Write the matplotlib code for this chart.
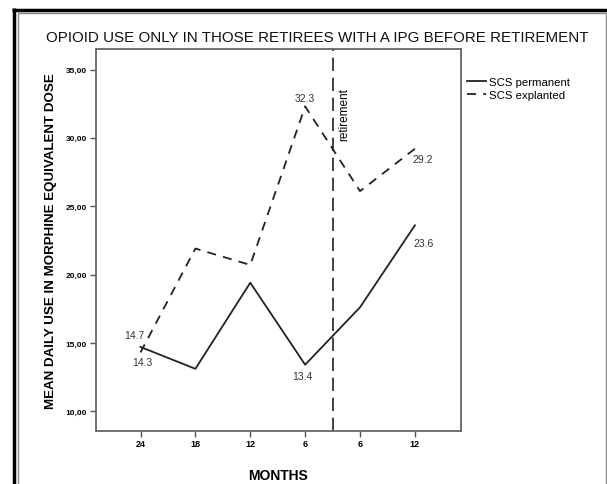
import numpy as np
import matplotlib.pyplot as plt
from matplotlib.patches import Rectangle
from matplotlib.lines import Line2D

# Data
months = ['24', '18', '12', '6', '6', '12']
scs_permanent = [14.7, 13.1, 19.4, 13.4, 17.6, 23.6]
scs_explanted = [14.3, 21.9, 20.7, 32.3, 26.1, 29.2]
yticks = [10, 15, 20, 25, 30, 35]

W, H = 607, 485
fig = plt.figure(figsize=(W / 100, H / 100), dpi=100)
plt.rcParams['font.family'] = ['Liberation Sans', 'DejaVu Sans']

# outer frame
fig.add_artist(Line2D([13.5 / W, 13.5 / W], [-0.05, 1 - 9.2 / H], color='black', lw=2.5,
                      solid_capstyle='butt'))
fig.add_artist(Line2D([12.2 / W, 1.05], [1 - 10.5 / H, 1 - 10.5 / H], color='black', lw=2.5,
                      solid_capstyle='butt'))
fig.add_artist(Rectangle((17.5 / W, -0.1), (605.5 - 17.5) / W, 1.1 - 14 / H,
                         fill=False, ec='#888888', lw=1.0, transform=fig.transFigure))

ax = fig.add_axes([95.5 / W, (H - 432) / H, (461 - 95.5) / W, (432 - 50) / H])
x = np.arange(len(months))
ax.plot(x, scs_permanent, color='#222222', lw=1.3, label='SCS permanent')
ax.plot(x, scs_explanted, color='#222222', lw=1.3, ls=(0, (5, 4)), label='SCS explanted')
ax.axvline(3.5, color='#222222', lw=1.2, ls=(0, (8, 4)))
ax.text(3.72, 31.8, 'retirement', rotation=90, fontsize=8.5, va='center', ha='center')

ax.set_xlim(-0.82, 5.84)
ax.set_ylim(8.55, 36.5)
ax.set_xticks(x)
ax.set_xticklabels(months, fontsize=6.5, fontweight='bold')
ax.set_yticks(yticks)
ax.set_yticklabels([f'{v:.2f}'.replace('.', ',') for v in yticks], fontsize=6, fontweight='bold')
ax.tick_params(length=4, width=1, color='#555555', pad=2)
for s in ax.spines.values():
    s.set_color('#666666')
    s.set_linewidth(1.3)

# value labels
lab_kw = dict(fontsize=7.5, color='#333333', ha='center', va='center')
ax.text(-0.11, 15.55, '14.7', **lab_kw)
ax.text(0.04, 13.58, '14.3', **lab_kw)
ax.text(2.95, 12.55, '13.4', **lab_kw)
ax.text(5.15, 22.34, '23.6', **lab_kw)
ax.text(5.15, 28.47, '29.2', **lab_kw)
ax.text(3.0, 32.9, '32.3', **lab_kw)

ax.set_xlabel('MONTHS', fontsize=10, fontweight='bold', labelpad=14)
ax.set_ylabel('MEAN DAILY USE IN MORPHINE EQUIVALENT DOSE', fontsize=9.6,
              fontweight='bold', labelpad=6)
fig.text(0.522, 1 - 38 / H, 'OPIOID USE ONLY IN THOSE RETIREES WITH A IPG BEFORE RETIREMENT',
         fontsize=10.9, ha='center', va='center', color='#111111')

fig.legend(loc='upper left', bbox_to_anchor=(461 / W, 1 - 72 / H), frameon=False,
           fontsize=8.2, handlelength=1.7, handletextpad=0.3, labelspacing=0.25,
           borderpad=0)

fig.savefig('out.png', dpi=100)
